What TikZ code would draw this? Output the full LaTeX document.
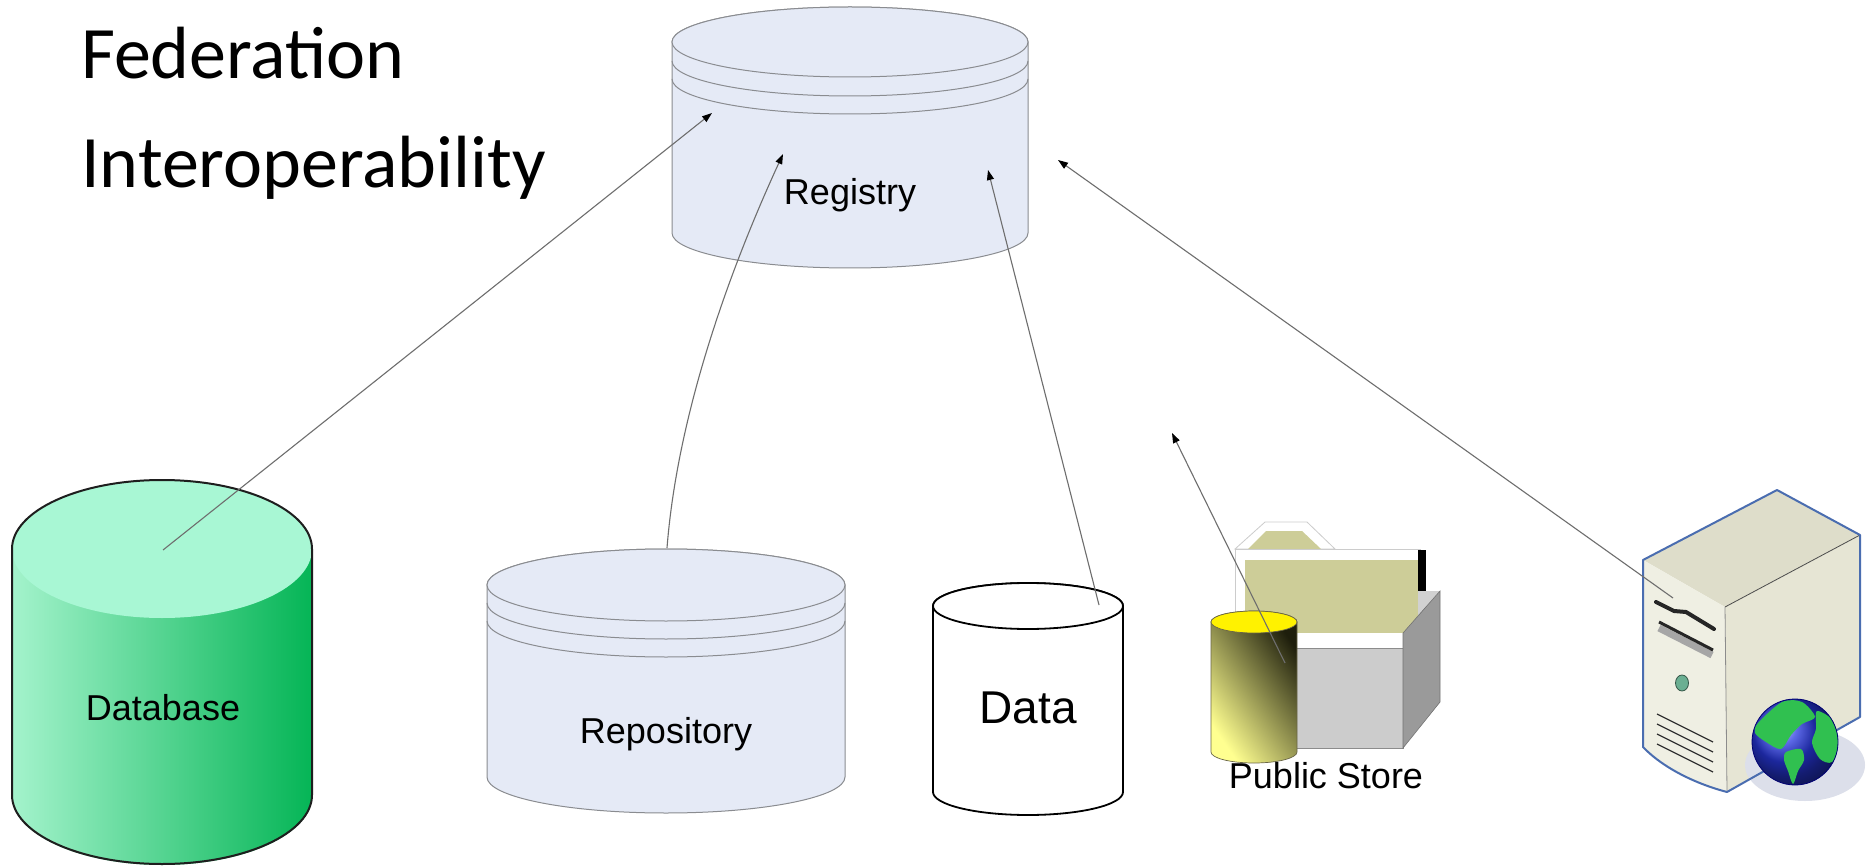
\documentclass[tikz,border=0pt]{standalone}
\usepackage{fontspec}
\setmainfont{Liberation Sans}
\newfontfamily\titlefont{Carlito}
\usetikzlibrary{arrows.meta,shadings}
\definecolor{regfill}{HTML}{E5EAF6}
\definecolor{regline}{HTML}{8A8C90}
\definecolor{connc}{HTML}{6E6E6E}
\definecolor{dbL}{HTML}{A4F3CC}
\definecolor{dbR}{HTML}{05B556}
\definecolor{dbtop}{HTML}{A8F7D4}
\definecolor{dbline}{HTML}{1E1E1E}
\definecolor{khaki}{HTML}{CDCD98}
\definecolor{boxfront}{HTML}{CCCCCC}
\definecolor{boxside}{HTML}{9A9A9A}
\definecolor{ylight}{HTML}{FFFF90}
\definecolor{ymid}{HTML}{D8D860}
\definecolor{ydark}{HTML}{1E1E0C}
\definecolor{srvfront}{HTML}{EFEFE3}
\definecolor{srvtop}{HTML}{DEDDCA}
\definecolor{srvside}{HTML}{E6E5D4}
\definecolor{srvline}{HTML}{4A6DB0}
\definecolor{globeblue}{HTML}{2838E0}
\definecolor{globegreen}{HTML}{30C050}
\definecolor{shadowc}{HTML}{DCDFEA}
\definecolor{btn}{HTML}{6BAF92}
\newcommand{\mycyl}[6]{%
  \path[#6] ({#1-#4},#2) -- ({#1-#4},#3)
    arc[start angle=180,end angle=360,x radius=#4pt,y radius=#5pt]
    -- ({#1+#4},#2)
    arc[start angle=0,end angle=180,x radius=#4pt,y radius=#5pt] -- cycle;}
\begin{document}
\begin{tikzpicture}[x=1pt,y=-1pt,
  conn/.style={draw=connc, line width=1.1pt, -{Triangle[length=10pt,width=7pt,color=black]}},
  lbl/.style={anchor=base, inner sep=0pt, font=\fontsize{36}{40}\selectfont},
  titletext/.style={anchor=base west, inner sep=0pt, font=\titlefont\fontsize{74}{80}\selectfont},
  regshape/.style={fill=regfill, draw=regline, line width=1pt},
  regedge/.style={draw=regline, line width=1pt}]
\path[use as bounding box, fill=white] (0,0) rectangle (1868,866);

% Title
\node[titletext] (t1) at (81,79) {Federation};
\node[titletext] (t2) at (81,188) {Interoperability};

% Database
\mycyl{162}{549}{796}{150}{69}{left color=dbL, right color=dbR}
\fill[dbtop] (162,549) ellipse[x radius=150pt,y radius=69pt];
\mycyl{162}{549}{795}{150}{69}{draw=dbline, line width=2pt}
\node[lbl] (dblbl) at (163,720) {Database};

% Registry
\mycyl{850}{42}{233}{178}{35}{regshape}
\draw[regshape] (850,42) ellipse[x radius=178pt,y radius=35pt];
\draw[regedge] (672,61) arc[start angle=180,end angle=360,x radius=178pt,y radius=35pt];
\draw[regedge] (672,79) arc[start angle=180,end angle=360,x radius=178pt,y radius=35pt];
\node[lbl] (reglbl) at (850,205) {Registry};

% Repository
\mycyl{666}{585}{777}{179}{36}{regshape}
\draw[regshape] (666,585) ellipse[x radius=179pt,y radius=36pt];
\draw[regedge] (487,603) arc[start angle=180,end angle=360,x radius=179pt,y radius=36pt];
\draw[regedge] (487,621) arc[start angle=180,end angle=360,x radius=179pt,y radius=36pt];
\node[lbl] (repolbl) at (666,743) {Repository};

% Data
\mycyl{1028}{606}{792}{95}{23}{fill=white, draw=black, line width=1.8pt}
\draw[fill=white, draw=black, line width=1.8pt] (1028,606) ellipse[x radius=95pt,y radius=23pt];
\node[lbl, font=\fontsize{46}{50}\selectfont] (datalbl) at (1028,723) {Data};

% Public store: folder
\filldraw[fill=white, draw=black!20, line width=0.8pt] (1235,549) -- (1265,522) -- (1307,522) -- (1335,549) -- cycle;
\fill[khaki] (1248,549) -- (1266,531) -- (1302,531) -- (1321,549) -- cycle;
\filldraw[fill=white, draw=black!20, line width=0.8pt] (1235,549) rectangle (1420,633);
\fill[khaki] (1245,560) rectangle (1418,633);
\fill[black] (1418,550) rectangle (1426,615);
% box
\fill[black!18] (1418,591) -- (1440,591) -- (1418,616) -- cycle;
\fill[white] (1240,633) rectangle (1403,648);
\filldraw[fill=boxfront, draw=black!45, line width=0.6pt] (1240,648) rectangle (1403,748);
\filldraw[fill=boxside, draw=black!55, line width=0.6pt] (1403,633) -- (1440,591) -- (1440,702) -- (1403,748) -- cycle;
% yellow cylinder
\mycyl{1254}{622}{752}{43}{11}{left color=ylight, middle color=ymid, right color=ydark, shading angle=125}
\mycyl{1254}{622}{752}{43}{11}{draw=black!45!yellow!60!black, line width=0.7pt}
\filldraw[fill=yellow, draw=black!45!yellow!60!black, line width=0.7pt] (1254,622) ellipse[x radius=43pt,y radius=11pt];
\node[lbl] (publbl) at (1326,788) {Public Store};

% Server
\coordinate (sA) at (1643,560);
\coordinate (sB) at (1777,490);
\coordinate (sC) at (1860,535);
\coordinate (sD) at (1725,607);
\coordinate (sE) at (1860,717);
\coordinate (sF) at (1727,792);
\coordinate (sG) at (1643,747);
\fill[srvtop] (sA) -- (sB) -- (sC) -- (sD) -- cycle;
\fill[srvside] (sD) -- (sC) -- (sE) -- (sF) -- cycle;
\fill[srvfront] (sA) -- (sD) -- (sF) .. controls (1700,785) and (1665,770) .. (sG) -- cycle;
\fill[shadowc] (1805,765) ellipse[x radius=60pt,y radius=36pt];
\draw[black!70, line width=0.8pt] (sD) -- (sC);
\draw[black!45, line width=0.8pt] (sD) -- (sF);
\draw[srvline, line width=2pt, line join=round] (sA) -- (sB) -- (sC) -- (sE) -- (sF) .. controls (1700,785) and (1665,770) .. (sG) -- cycle;
% slits
\draw[black!85, line width=4pt, line cap=round] (1656,602) -- (1674,611) -- (1686,612) -- (1714,629);
\draw[black!35, line width=7pt] (1659,628) -- (1712,655);
\draw[black!85, line width=3pt] (1659,622) -- (1713,650);
% button
\filldraw[fill=btn, draw=black!50!btn, line width=0.8pt] (1682,683) ellipse[x radius=6.5pt,y radius=8pt];
% vents
\foreach \k in {0,1,2,3} {
  \draw[black!80, line width=1.3pt] (1657,{714+10*\k}) -- (1713,{742+10*\k});
}
% globe
\shade[ball color=globeblue] (1795,742) circle[radius=43pt];
\begin{scope}
\clip (1795,742) circle[radius=43pt];
\fill[globegreen] plot[smooth cycle] coordinates {(1758,723) (1782,702) (1802,702) (1815,717) (1802,724) (1791,735) (1781,749) (1766,742) (1755,733)};
\fill[globegreen] plot[smooth cycle] coordinates {(1817,711) (1835,722) (1841,743) (1832,762) (1820,759) (1812,743) (1816,729)};
\fill[globegreen] plot[smooth cycle] coordinates {(1786,752) (1801,749) (1804,760) (1798,771) (1793,784) (1788,771) (1784,760)};
\end{scope}
\draw[blue!45!black, line width=0.8pt] (1795,742) circle[radius=43pt];

% Connector endpoints
\coordinate (dbP) at (163,550);
\coordinate (regA) at (712,113);
\coordinate (repoP) at (667,548);
\coordinate (regB) at (783,154);
\coordinate (dataP) at (1099,605);
\coordinate (regC) at (988,170);
\coordinate (pubP) at (1285,663);
\coordinate (pubEnd) at (1172,433);
\coordinate (srvP) at (1673,598);
\coordinate (regD) at (1058,160);

% Connectors
\draw[conn] (dbP) -- (regA);
\draw[conn] (repoP) .. controls (677,420) and (725,280) .. (regB);
\draw[conn] (dataP) -- (regC);
\draw[conn] (pubP) -- (pubEnd);
\draw[conn] (srvP) -- (regD);
\end{tikzpicture}
\end{document}
